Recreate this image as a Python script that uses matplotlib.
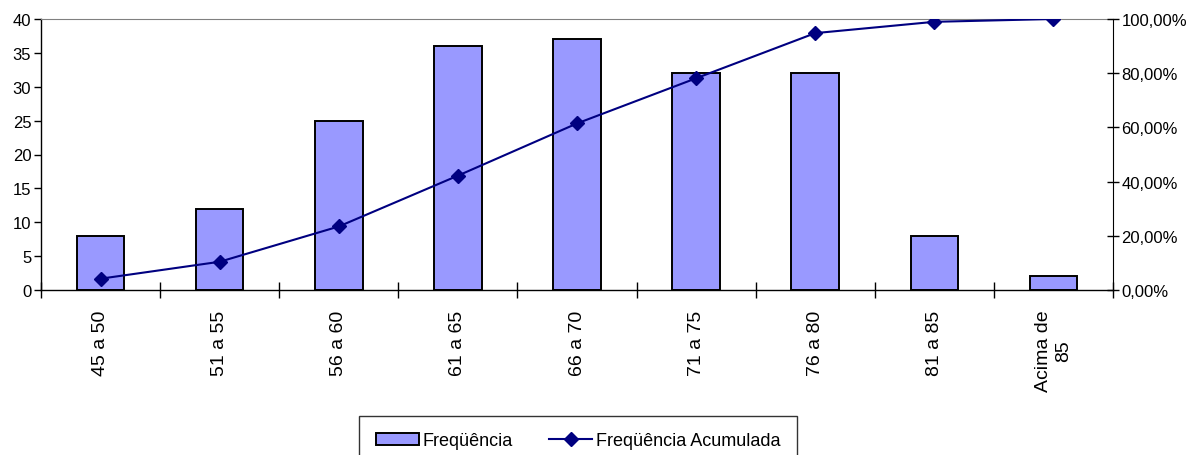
import matplotlib
matplotlib.use("Agg")
import matplotlib.pyplot as plt
from matplotlib.ticker import FuncFormatter, MultipleLocator
import numpy as np

categories = ["45 a 50", "51 a 55", "56 a 60", "61 a 65", "66 a 70",
              "71 a 75", "76 a 80", "81 a 85", "Acima de\n85"]
frequencia = [8, 12, 25, 36, 37, 32, 32, 8, 2]
acumulada = [4.17, 10.42, 23.44, 42.19, 61.46, 78.13, 94.79, 98.96, 100.0]

plt.rcParams['font.family'] = ['Liberation Sans', 'DejaVu Sans']

fig = plt.figure(figsize=(11.95, 4.56), dpi=100)
ax = fig.add_axes([41/1195, 1-291/456, (1113-41)/1195, (291-20)/456])
x = np.arange(len(categories))

bars = ax.bar(x, frequencia, width=0.4, color='#9999FF', edgecolor='black',
              linewidth=1.4, label='Freqüência', zorder=2)
ax.set_xlim(-0.5, len(categories) - 0.5)
ax.set_ylim(0, 40)
ax.yaxis.set_major_locator(MultipleLocator(5))
ax.set_xticks(np.arange(-0.5, len(categories), 1))
ax.set_xticklabels([])
ax.set_xticks(x, minor=True)
ax.set_xticklabels(categories, minor=True, rotation=90, va='top', ha='center',
                   multialignment='center', fontsize=14, linespacing=1.2)
ax.tick_params(axis='x', which='minor', length=0, pad=14)
ax.tick_params(axis='x', which='major', direction='inout', length=11, width=1)
ax.tick_params(axis='y', direction='out', length=5, width=1, labelsize=12, pad=2)
for s in ['left', 'bottom']:
    ax.spines[s].set_color('black')
    ax.spines[s].set_linewidth(1)
ax.spines['top'].set_color('#808080')
ax.spines['right'].set_visible(False)

ax2 = ax.twinx()
line, = ax2.plot(x, acumulada, color='#000080', marker='D', markersize=7,
                 linewidth=1.5, label='Freqüência Acumulada', zorder=3)
ax2.set_ylim(0, 100)
ax2.yaxis.set_major_locator(MultipleLocator(20))
ax2.yaxis.set_major_formatter(FuncFormatter(lambda v, p: f"{v:.2f}".replace('.', ',') + '%'))
ax2.tick_params(axis='y', direction='inout', length=8, width=1, labelsize=12, pad=2)
ax2.spines['right'].set_color('black')
ax2.spines['top'].set_visible(False)
ax2.spines['left'].set_visible(False)
ax2.spines['bottom'].set_visible(False)

leg = fig.legend([bars, line], ['Freqüência', 'Freqüência Acumulada'],
                 loc='upper center', bbox_to_anchor=(578/1195, 1-417/456),
                 ncol=2, fontsize=13, frameon=True, fancybox=False,
                 edgecolor='black', borderpad=0.9, handlelength=2.4,
                 handletextpad=0.2, columnspacing=2.0, borderaxespad=0)
leg.get_frame().set_linewidth(1)

fig.savefig("out.png", dpi=100)
